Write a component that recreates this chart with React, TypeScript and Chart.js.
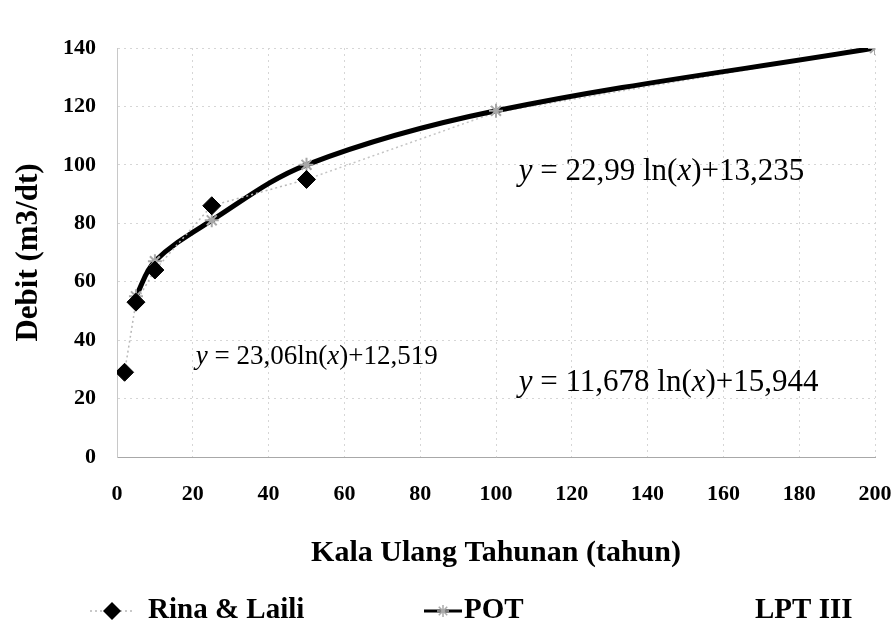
import React, { useEffect, useRef } from 'react';
import { Chart, registerables } from 'chart.js';
Chart.register(...registerables);

// ---- data ----
const rinaX = [2, 5, 10, 25, 50];
const rinaY = [29, 53, 64, 86, 95];
const potX = [5, 10, 25, 50, 100, 200];
const potY = [55, 67, 81, 100, 118.5, 140];
const lptX = [50, 100, 200];
const lptY = [95, 118, 140];
const seriesNames = ['Rina & Laili', 'POT', 'LPT III'];
const xTitle = 'Kala Ulang Tahunan (tahun)';
const yTitle = 'Debit (m3/dt)';
const eqTexts = [
  ['y', ' = 22,99 ln(', 'x', ')+13,235'],
  ['y', ' = 23,06ln(', 'x', ')+12,519'],
  ['y', ' = 11,678 ln(', 'x', ')+15,944'],
];

const SERIF = '"Liberation Serif", "Times New Roman", serif';

const zip = (xs: number[], ys: number[]) => xs.map((x, i) => ({ x, y: ys[i] }));

function drawEq(ctx: CanvasRenderingContext2D, x: number, y: number, parts: string[], size: number) {
  let cx = x;
  parts.forEach((t, i) => {
    const italic = i === 0 || i === 2;
    ctx.font = `${italic ? 'italic ' : ''}${size}px ${SERIF}`;
    ctx.fillText(t, cx, y);
    cx += ctx.measureText(t).width;
  });
}

const overlayPlugin = {
  id: 'overlay',
  afterDraw(chart: any) {
    const ctx: CanvasRenderingContext2D = chart.ctx;
    const xs = chart.scales.x;
    const ys = chart.scales.y;
    ctx.save();
    ctx.fillStyle = '#000';
    ctx.textBaseline = 'middle';
    ctx.textAlign = 'left';
    // equation annotations (anchored in data space)
    drawEq(ctx, xs.getPixelForValue(106), ys.getPixelForValue(97.6), eqTexts[0], 31);
    drawEq(ctx, xs.getPixelForValue(20.8), ys.getPixelForValue(34.2), eqTexts[1], 27);
    drawEq(ctx, xs.getPixelForValue(106), ys.getPixelForValue(25.3), eqTexts[2], 31);

    // legend
    const ly = 611;
    // Rina & Laili: faint dotted line + diamond
    ctx.strokeStyle = '#b8b8b8';
    ctx.lineWidth = 1.5;
    ctx.setLineDash([2, 3]);
    ctx.beginPath();
    ctx.moveTo(90, ly);
    ctx.lineTo(134, ly);
    ctx.stroke();
    ctx.setLineDash([]);
    ctx.fillStyle = '#000';
    ctx.beginPath();
    ctx.moveTo(112, ly - 9);
    ctx.lineTo(121, ly);
    ctx.lineTo(112, ly + 9);
    ctx.lineTo(103, ly);
    ctx.closePath();
    ctx.fill();
    ctx.font = `bold 29px ${SERIF}`;
    ctx.fillText(seriesNames[0], 148, ly);
    // POT: black line + gray star
    ctx.strokeStyle = '#000';
    ctx.lineWidth = 3;
    ctx.beginPath();
    ctx.moveTo(424, ly);
    ctx.lineTo(462, ly);
    ctx.stroke();
    ctx.strokeStyle = '#aaa';
    ctx.lineWidth = 1.5;
    const r = 6;
    const cx = 443;
    ctx.beginPath();
    for (let k = 0; k < 4; k++) {
      const a = (k * Math.PI) / 4;
      ctx.moveTo(cx - r * Math.cos(a), ly - r * Math.sin(a));
      ctx.lineTo(cx + r * Math.cos(a), ly + r * Math.sin(a));
    }
    ctx.stroke();
    ctx.fillStyle = '#000';
    ctx.fillText(seriesNames[1], 464, ly);
    // LPT III
    ctx.fillText(seriesNames[2], 755, ly);
    ctx.restore();
  },
};

export default function App() {
  const ref = useRef<HTMLCanvasElement>(null);
  useEffect(() => {
    if (!ref.current) return;
    const chart = new Chart(ref.current, {
      type: 'scatter',
      data: {
        datasets: [
          {
            label: seriesNames[0],
            data: zip(rinaX, rinaY),
            showLine: true,
            borderColor: '#b8b8b8',
            borderWidth: 1.5,
            borderDash: [2, 3],
            pointStyle: 'rectRot',
            pointRadius: 9,
            pointBackgroundColor: '#000',
            pointBorderColor: '#000',
            pointBorderWidth: 1,
            tension: 0,
          },
          {
            label: seriesNames[1],
            data: zip(potX, potY),
            showLine: true,
            borderColor: '#000',
            borderWidth: 5,
            tension: 0.35,
            pointStyle: 'star',
            pointRadius: 7,
            pointBorderColor: '#a8a8a8',
            pointBackgroundColor: '#a8a8a8',
            pointBorderWidth: 2,
          },
          {
            label: seriesNames[2],
            data: zip(lptX, lptY),
            showLine: true,
            borderColor: '#c4c4c4',
            borderWidth: 1.5,
            borderDash: [2, 3],
            pointRadius: 0,
            tension: 0,
          },
        ],
      },
      options: {
        animation: false,
        responsive: true,
        maintainAspectRatio: false,
        layout: { padding: { top: 48, right: 19, bottom: 0, left: 0 } },
        plugins: { legend: { display: false }, tooltip: { enabled: false } },
        scales: {
          x: {
            type: 'linear',
            min: 0,
            max: 200,
            ticks: {
              stepSize: 20,
              color: '#000',
              padding: 24,
              font: { family: SERIF, size: 22, weight: 'bold' },
            },
            grid: { color: '#d6d6d6', drawTicks: false, lineWidth: 1 },
            border: { color: '#a8a8a8', width: 1, dash: [2, 4] },
            title: {
              display: true,
              text: xTitle,
              color: '#000',
              font: { family: SERIF, size: 30, weight: 'bold' },
              padding: { top: 0, bottom: 53 },
            },
            afterFit(s: any) {
              s.height = 624 - 457;
              s.paddingLeft = 0;
              s.paddingRight = 0;
            },
          },
          y: {
            min: 0,
            max: 140,
            ticks: {
              stepSize: 20,
              color: '#000',
              padding: 21,
              font: { family: SERIF, size: 22, weight: 'bold' },
            },
            grid: { color: '#d6d6d6', drawTicks: false, lineWidth: 1 },
            border: { color: '#c8c8c8', width: 1, dash: [2, 4] },
            title: {
              display: true,
              text: yTitle,
              color: '#000',
              font: { family: SERIF, size: 31, weight: 'bold' },
              padding: { top: 10, bottom: 0 },
            },
            afterFit(s: any) {
              s.width = 117;
              s.paddingTop = 0;
              s.paddingBottom = 0;
            },
          },
        },
      },
      plugins: [overlayPlugin],
    } as any);
    return () => chart.destroy();
  }, []);
  return (
    <div style={{ position: 'fixed', left: 0, top: 0, width: 894, height: 624, background: '#fff' }}>
      <canvas ref={ref} />
    </div>
  );
}
